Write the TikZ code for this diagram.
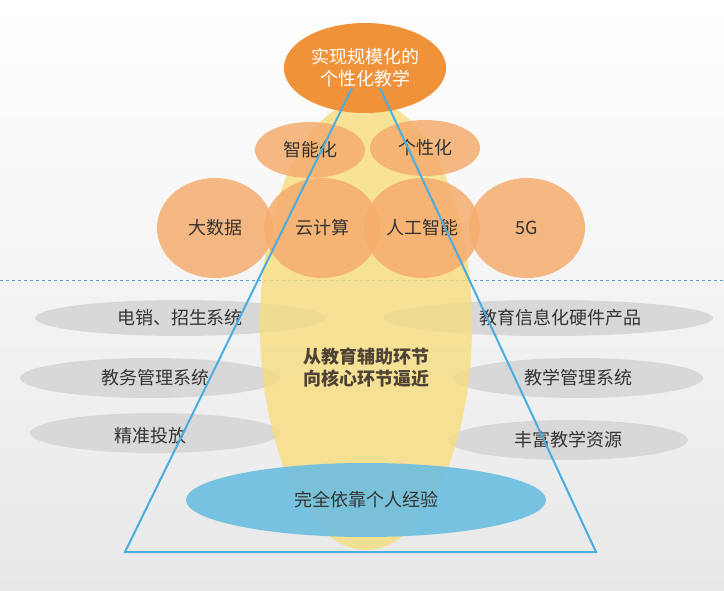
\documentclass[tikz,border=0pt]{standalone}
\usepackage{fontspec}
\usetikzlibrary{shapes.geometric}
\setmainfont{Noto Sans CJK SC}
\definecolor{org}{HTML}{F0923A}
\definecolor{lorg}{HTML}{F5AD6E}
\definecolor{yel}{HTML}{F7DD7E}
\definecolor{tri}{HTML}{4AADE0}
\definecolor{gr}{HTML}{D6D6D6}
\definecolor{blu}{HTML}{6CBEE0}
\definecolor{txt}{HTML}{333333}
\begin{document}
\begin{tikzpicture}[x=1pt,y=-1pt,
 lo/.style={ellipse,fill=lorg,fill opacity=0.85,text opacity=1,text=txt,font=\fontsize{18}{21}\selectfont},
 ge/.style={fill=gr,fill opacity=0.9},
 gt/.style={text=txt,font=\fontsize{18}{21}\selectfont}]
\shade[top color=white,bottom color=gray!18] (0,0) rectangle (724,591);
\useasboundingbox (0,0) rectangle (724,591);
\draw[tri!70!gray,dashed] (0,280) -- (724,280);
% gray ellipses
\fill[ge] (180,318) ellipse (145 and 18);
\fill[ge] (548,318) ellipse (165 and 18);
\fill[ge] (150,378) ellipse (130 and 20);
\fill[ge] (578,378) ellipse (125 and 20);
\fill[ge] (155,433) ellipse (125 and 20);
\fill[ge] (568,440) ellipse (120 and 20);
\fill[yel,opacity=0.8] (366,325) ellipse (106 and 225);
\node[gt] (a) at (180,318) {电销、招生系统};
\node[gt] (b) at (560,318) {教育信息化硬件产品};
\node[gt] (c) at (155,378) {教务管理系统};
\node[gt] (d) at (578,378) {教学管理系统};
\node[gt] (e) at (150,436) {精准投放};
\node[gt] (f) at (568,440) {丰富教学资源};
\fill[blu,opacity=0.9] (366,500) ellipse (180 and 37);
\node[gt] (g) at (366,500) {完全依靠个人经验};
\node[text=txt!80!brown,font=\bfseries\fontsize{18}{22}\selectfont,align=center] (h) at (366,368) {从教育辅助环节\\向核心环节逼近};
% orange circles
\node[lo,minimum width=110,minimum height=56] (i) at (310,150) {智能化};
\node[lo,minimum width=110,minimum height=56] (j) at (425,148) {个性化};
\node[lo,minimum width=116,minimum height=100] (k) at (215,228) {大数据};
\node[lo,minimum width=116,minimum height=100] (l) at (322,228) {云计算};
\node[lo,minimum width=116,minimum height=100] (m) at (422,228) {人工智能};
\node[lo,minimum width=116,minimum height=100] (n) at (527,228) {5G};
\node[ellipse,fill=org,minimum width=150,minimum height=90,text=white,align=center,font=\fontsize{18}{22}\selectfont] (t) at (365,68) {实现规模化的\\个性化教学};
\coordinate (p1) at (352,88);
\coordinate (p2) at (380,88);
\coordinate (bl) at (125,552);
\coordinate (br) at (596,552);
\draw[tri,line width=2] (p1) -- (bl) -- (br) -- (p2);
\end{tikzpicture}
\end{document}
